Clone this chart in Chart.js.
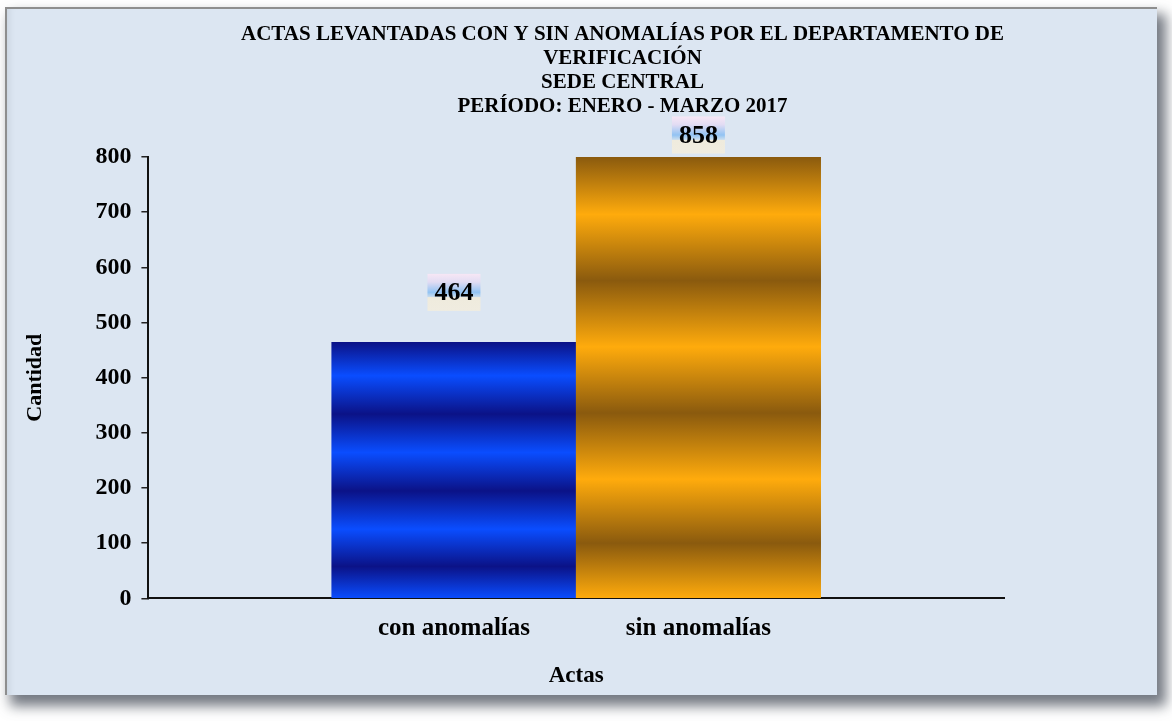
<!DOCTYPE html>
<html lang="es">
<head>
<meta charset="utf-8">
<title>Actas levantadas con y sin anomalías</title>
<script src="https://cdn.jsdelivr.net/npm/chart.js@4.4.1/dist/chart.umd.min.js"></script>
<style>
    html, body { margin: 0; padding: 0; background: #ffffff; }
    .marco {
        position: absolute;
        left: 5px;
        top: 7px;
        width: 1150px;
        height: 686px;
        border-left: 2px solid #8e8e8e;
        border-top: 2px solid #8e8e8e;
        background: #dce6f2;
        box-shadow: 7px 9px 12px 2px rgba(70, 76, 88, 0.75), inset 8px 0 10px -8px rgba(0, 0, 0, 0.12);
        overflow: hidden;
    }
    #grafico { position: absolute; left: 0; top: 0; }
</style>
</head>
<body>
<div class="marco"><canvas id="grafico" width="1226" height="686"></canvas></div>
<script>
// Datos del gráfico
const categorias = ['con anomalías', 'sin anomalías'];
const cantidades = [464, 858];
const ticksY = [0, 100, 200, 300, 400, 500, 600, 700, 800];
const titulo = [
    'ACTAS LEVANTADAS CON Y SIN ANOMALÍAS POR EL DEPARTAMENTO DE',
    'VERIFICACIÓN',
    'SEDE CENTRAL',
    'PERÍODO: ENERO - MARZO 2017'
];

// Colores de las franjas de cada barra
const coloresOscuros = ['#0b1287', '#8a5a0e'];
const coloresClaros = ['#0a4dff', '#ffab0c'];

const fuente = "'Liberation Serif', 'Times New Roman', serif";

// Degradado en franjas horizontales, calculado sobre la parte visible de la barra
function rayas(context) {
    const chart = context.chart;
    const area = chart.chartArea;
    const i = context.dataIndex;
    if (!area || context.type !== 'data') return coloresClaros[i];
    const y = chart.scales.y;
    const top = Math.max(y.getPixelForValue(cantidades[i]), area.top);
    const base = y.getPixelForValue(0);
    const g = chart.ctx.createLinearGradient(0, top, 0, base);
    const paradas = [0, 0.13, 0.28, 0.43, 0.58, 0.73, 0.875, 1];
    paradas.forEach((p, k) => g.addColorStop(p, k % 2 ? coloresClaros[i] : coloresOscuros[i]));
    return g;
}

// Etiquetas de valor con recuadro degradado
const etiquetas = {
    id: 'etiquetas',
    afterDatasetsDraw(chart) {
        const { ctx, chartArea, scales: { y } } = chart;
        const meta = chart.getDatasetMeta(0);
        ctx.save();
        ctx.font = 'bold 26px ' + fuente;
        ctx.textAlign = 'center';
        ctx.textBaseline = 'middle';
        meta.data.forEach((bar, i) => {
            const texto = String(cantidades[i]);
            const cy = Math.max(y.getPixelForValue(cantidades[i]) - 50, chartArea.top - 22);
            const w = ctx.measureText(texto).width + 14;
            const h = 37;
            const g = ctx.createLinearGradient(0, cy - h / 2, 0, cy + h / 2);
            g.addColorStop(0, '#f7e7f5');
            g.addColorStop(0.22, '#e2dcf3');
            g.addColorStop(0.5, '#92c3f3');
            g.addColorStop(0.62, '#c8dcee');
            g.addColorStop(0.64, '#efebdd');
            g.addColorStop(1, '#f0ece0');
            ctx.fillStyle = g;
            ctx.fillRect(bar.x - w / 2, cy - h / 2, w, h);
            ctx.fillStyle = '#000';
            ctx.fillText(texto, bar.x, cy + 1);
        });
        ctx.restore();
    }
};

const config = {
    type: 'bar',
    data: {
        datasets: [{
            data: cantidades.map((v, i) => ({ x: i + 1, y: v })),
            backgroundColor: rayas,
            borderWidth: 0,
            barPercentage: 1.0,
            categoryPercentage: 1.0
        }]
    },
    options: {
        responsive: false,
        animation: false,
        layout: {
            padding: { left: 5, right: 0, top: 2, bottom: 5 }
        },
        plugins: {
            legend: { display: false },
            tooltip: { enabled: false },
            title: {
                display: true,
                text: titulo,
                color: '#000',
                font: { family: fuente, size: 21, weight: 'bold', lineHeight: '24px' },
                padding: { top: 12, bottom: 38 }
            }
        },
        scales: {
            x: {
                type: 'linear',
                min: -0.25,
                max: 3.25,
                offset: false,
                afterBuildTicks: function (scale) {
                    scale.ticks = categorias.map((c, i) => ({ value: i + 1 }));
                },
                grid: { display: true, drawOnChartArea: false, drawTicks: false },
                border: { color: '#111', width: 2 },
                ticks: {
                    callback: function (value) {
                        return categorias[value - 1];
                    },
                    color: '#000',
                    font: { family: fuente, size: 25, weight: 'bold' },
                    padding: 15,
                    maxRotation: 0,
                    autoSkip: false
                },
                title: {
                    display: true,
                    text: 'Actas',
                    color: '#000',
                    font: { family: fuente, size: 23, weight: 'bold' },
                    padding: { top: 4, bottom: 0 }
                }
            },
            y: {
                min: 0,
                max: 800,
                afterBuildTicks: function (scale) {
                    scale.ticks = ticksY.map(v => ({ value: v }));
                },
                grid: { drawOnChartArea: false, color: '#222', tickLength: 7, lineWidth: 1.5 },
                border: { color: '#111', width: 2 },
                ticks: {
                    color: '#000',
                    font: { family: fuente, size: 24, weight: 'bold' },
                    padding: 10
                },
                title: {
                    display: true,
                    text: 'Cantidad',
                    color: '#000',
                    font: { family: fuente, size: 22, weight: 'bold' },
                    padding: { top: 10, bottom: 37 }
                }
            },
            // eje vacío a la derecha: reserva el margen derecho del área de trazado
            margen: {
                type: 'linear',
                position: 'right',
                display: true,
                grid: { display: false },
                border: { display: false },
                ticks: { display: false },
                afterFit: function (scale) {
                    scale.width = 229;
                }
            }
        }
    },
    plugins: [etiquetas]
};

const grafico = new Chart(document.getElementById('grafico'), config);
</script>
</body>
</html>
